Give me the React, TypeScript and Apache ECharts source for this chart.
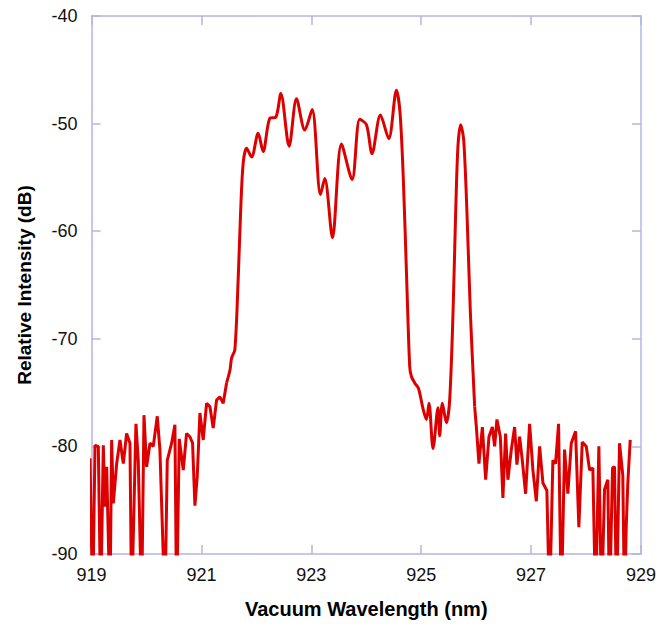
import React, { useEffect, useRef } from "react";
import * as echarts from "echarts";

// [wavelength nm, relative intensity dB]; values below -90 are clipped by the axis
const noiseLeft: number[][] = [
  [918.973, -81.1], [919.021, -95], [919.064, -79.9], [919.124, -80.0], [919.167, -95],
  [919.215, -79.9], [919.245, -85.6], [919.276, -81.9], [919.336, -95], [919.367, -79.4],
  [919.397, -85.3], [919.458, -81.6], [919.518, -79.4], [919.579, -81.6], [919.639, -78.8],
  [919.7, -79.7], [919.73, -95], [919.809, -77.9], [919.851, -81.3], [919.912, -95],
  [919.955, -77.1], [920.003, -81.9], [920.064, -79.7], [920.124, -80.0], [920.197, -77.2],
  [920.245, -80.3], [920.336, -95], [920.379, -81.3], [920.458, -79.7], [920.518, -78.0],
  [920.548, -95], [920.597, -79.3], [920.67, -82.2], [920.73, -78.8], [920.791, -79.1],
  [920.839, -79.7], [920.882, -85.5], [920.924, -82.8], [920.973, -76.9], [921.033, -79.4],
  [921.094, -76.0], [921.155, -76.3], [921.215, -78.3], [921.276, -75.7], [921.336, -75.4],
  [921.397, -76.0], [921.458, -74.1],
];

const band: number[][] = [
  [921.458, -74.1], [921.52, -72.9], [921.549, -71.8], [921.609, -71.0], [921.669, -64.5],
  [921.713, -58.3], [921.76, -53.7], [921.822, -52.3], [921.913, -53.1], [922.033, -50.9],
  [922.124, -52.6], [922.245, -49.5], [922.355, -49.4], [922.445, -47.2], [922.596, -52.1],
  [922.731, -47.7], [922.882, -50.6], [923.015, -48.7], [923.167, -56.6], [923.245, -55.1],
  [923.385, -60.6], [923.549, -51.9], [923.742, -55.2], [923.882, -49.6], [924.004, -50.1],
  [924.105, -52.8], [924.258, -49.2], [924.409, -51.4], [924.549, -46.9], [924.615, -49.0],
  [924.675, -55.2], [924.736, -64.5], [924.791, -72.6], [924.822, -73.5], [924.882, -74.1],
  [924.95, -74.6], [925.033, -76.5], [925.095, -77.5], [925.142, -76.0], [925.215, -80.2],
  [925.305, -76.4], [925.336, -79.0], [925.385, -76.0], [925.458, -77.8], [925.518, -75.7],
  [925.579, -67.6], [925.627, -58.3], [925.669, -52.1], [925.718, -50.1], [925.773, -51.5],
  [925.833, -58.3], [925.895, -67.6], [925.973, -76.3],
];

const noiseRight: number[][] = [
  [925.973, -76.3], [926.004, -78.2], [926.051, -81.6], [926.113, -78.2], [926.173, -83.1],
  [926.233, -79.1], [926.295, -78.2], [926.336, -80.0], [926.378, -77.5], [926.44, -79.1],
  [926.487, -84.8], [926.536, -78.8], [926.578, -83.1], [926.64, -80.3], [926.7, -78.2],
  [926.742, -81.7], [926.791, -79.1], [926.84, -81.3], [926.9, -84.4], [926.973, -77.9],
  [927.033, -82.2], [927.095, -85.1], [927.155, -80.0], [927.215, -83.4], [927.287, -84.1],
  [927.336, -95], [927.396, -81.3], [927.445, -81.6], [927.5, -77.9], [927.549, -95],
  [927.609, -80.3], [927.669, -84.4], [927.731, -79.7], [927.809, -78.6], [927.869, -87.5],
  [927.931, -79.6], [928.004, -80.0], [928.064, -82.2], [928.124, -82.0], [928.173, -95],
  [928.233, -80.0], [928.282, -95], [928.336, -84.0], [928.396, -83.1], [928.427, -95],
  [928.482, -82.0], [928.518, -81.9], [928.555, -95], [928.609, -79.7], [928.669, -82.7],
  [928.7, -95], [928.731, -87.5], [928.76, -83.4], [928.804, -79.4],
];

const xTitle = "Vacuum Wavelength (nm)";
const yTitle = "Relative Intensity (dB)";

const AXIS_COLOR = "#b4b4e2";
const RED = "#dc0000";
const FONT = "Liberation Sans, Arial, sans-serif";

export default function App() {
  const ref = useRef<HTMLDivElement>(null);
  useEffect(() => {
    if (!ref.current) return;
    const chart = echarts.init(ref.current, undefined, { renderer: "svg" });
    const axisCommon = {
      type: "value" as const,
      axisLine: { show: true, onZero: false, lineStyle: { color: AXIS_COLOR, width: 1.5 } },
      axisTick: { show: true, inside: true, length: 9, lineStyle: { color: AXIS_COLOR, width: 1.5 } },
      splitLine: { show: false },
    };
    const lineSeries = (data: number[][], smooth: number | boolean) => ({
      type: "line" as const,
      data,
      smooth,
      showSymbol: false,
      symbol: "none",
      clip: true,
      lineStyle: { color: RED, width: 3 },
      itemStyle: { color: RED },
    });
    chart.setOption({
      animation: false,
      backgroundColor: "#ffffff",
      grid: { left: 91.5, right: 29, top: 16, bottom: 73, containLabel: false },
      xAxis: [
        {
          ...axisCommon,
          min: 919,
          max: 929,
          interval: 2,
          position: "bottom",
          axisLabel: { color: "#111", fontSize: 18, fontFamily: FONT, margin: 12 },
          name: xTitle,
          nameLocation: "middle",
          nameGap: 45,
          nameTextStyle: { color: "#000", fontSize: 20, fontWeight: "bold", fontFamily: FONT },
        },
        {
          ...axisCommon,
          min: 919,
          max: 929,
          interval: 2,
          position: "top",
          axisLabel: { show: false },
        },
      ],
      yAxis: [
        {
          ...axisCommon,
          min: -90,
          max: -40,
          interval: 10,
          position: "left",
          axisLabel: { color: "#111", fontSize: 18, fontFamily: FONT, margin: 14 },
          name: yTitle,
          nameLocation: "middle",
          nameGap: 58,
          nameTextStyle: { color: "#000", fontSize: 19, fontWeight: "bold", fontFamily: FONT },
        },
        {
          ...axisCommon,
          min: -90,
          max: -40,
          interval: 10,
          position: "right",
          axisLabel: { show: false },
        },
      ],
      series: [lineSeries(noiseLeft, false), lineSeries(band, 0.3), lineSeries(noiseRight, false)],
    });
    return () => chart.dispose();
  }, []);
  return (
    <div
      ref={ref}
      style={{ position: "fixed", left: 0, top: 0, width: 670, height: 627, background: "#fff" }}
    />
  );
}
